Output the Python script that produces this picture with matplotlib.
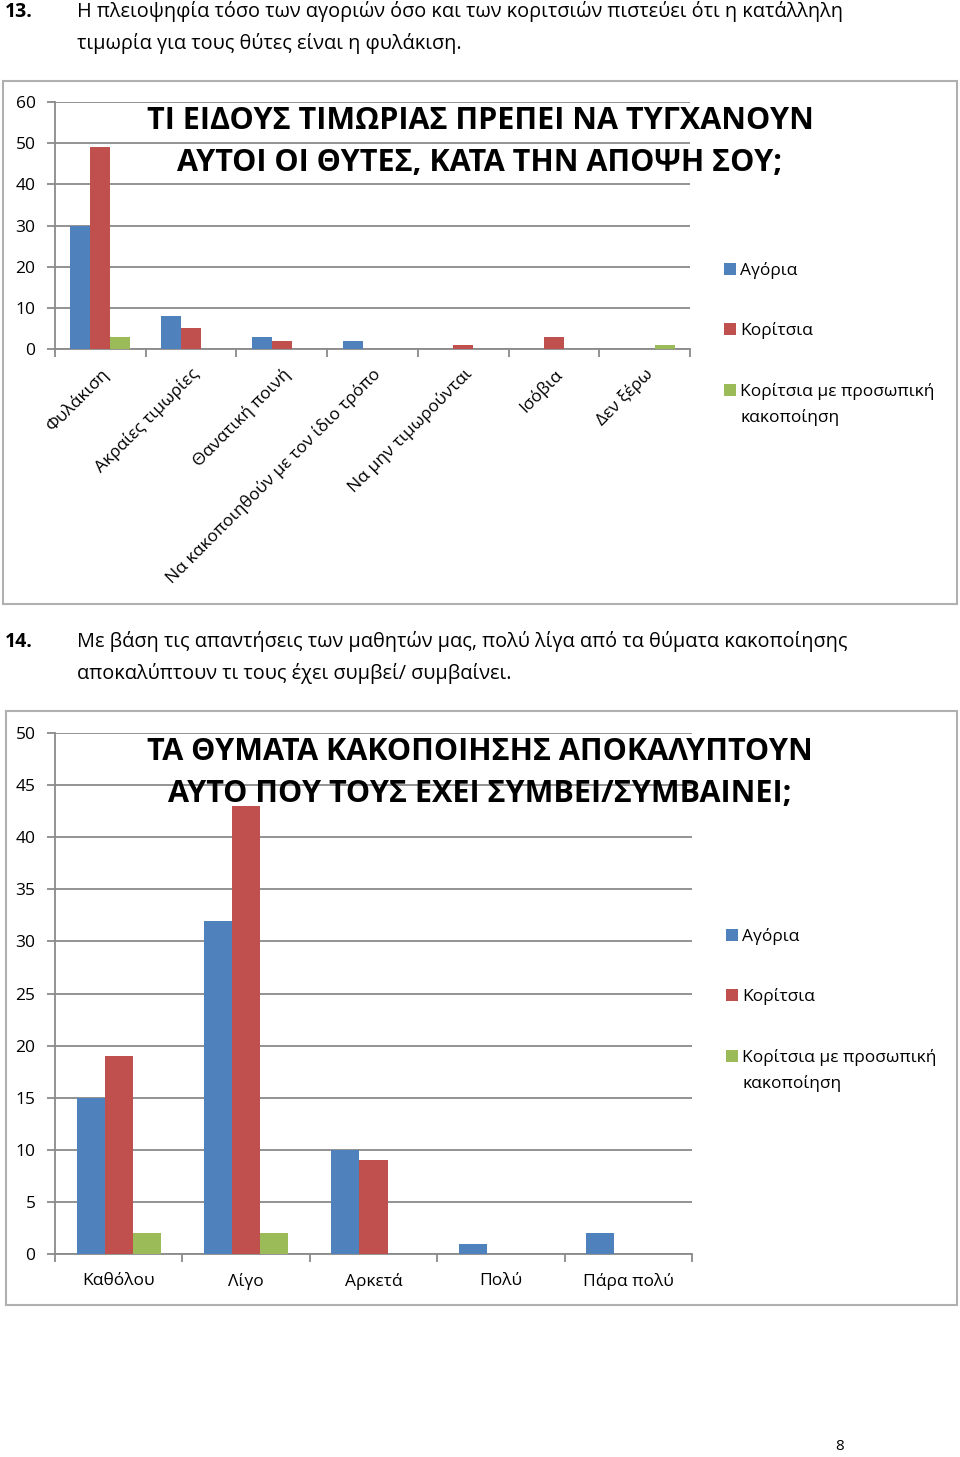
import matplotlib
matplotlib.use("Agg")
import matplotlib.pyplot as plt
import numpy as np
from matplotlib.patches import Rectangle

plt.rcParams['font.family'] = ['Open Sans', 'DejaVu Sans']

# data
series = ['Αγόρια', 'Κορίτσια', 'Κορίτσια με προσωπική']
series_extra = 'κακοποίηση'   # second line of the last legend entry
colors = ['#4F81BD', '#C0504D', '#9BBB59']

cats1 = ['Φυλάκιση', 'Ακραίες τιμωρίες', 'Θανατική ποινή',
         'Να κακοποιηθούν με τον ίδιο τρόπο', 'Να μην τιμωρούνται',
         'Ισόβια', 'Δεν ξέρω']
boys1 = [30, 8, 3, 2, 0, 0, 0]
girls1 = [49, 5, 2, 0, 1, 3, 0]
abused1 = [3, 0, 0, 0, 0, 0, 1]

cats2 = ['Καθόλου', 'Λίγο', 'Αρκετά', 'Πολύ', 'Πάρα πολύ']
boys2 = [15, 32, 10, 1, 2]
girls2 = [19, 43, 9, 0, 0]
abused2 = [2, 2, 0, 0, 0]

W, H = 960, 1457
fig = plt.figure(figsize=(W / 100, H / 100), dpi=100)

def box(x0, y0, x1, y1):
    return [x0 / W, 1 - y1 / H, (x1 - x0) / W, (y1 - y0) / H]

def frame(x0, y0, x1, y1):
    fig.patches.append(Rectangle((x0 / W, 1 - y1 / H), (x1 - x0) / W, (y1 - y0) / H,
                                 transform=fig.transFigure, fill=False,
                                 edgecolor='#b0b0b0', linewidth=1.5))

def bar_chart(ax, cats, vals, ymax, step, bw):
    x = np.arange(len(cats)) + 0.5
    for i, v in enumerate(vals):
        ax.bar(x + (i - 1) * bw, v, width=bw, color=colors[i], label=series[i], zorder=3)
    ax.set_xlim(0, len(cats))
    ax.set_ylim(0, ymax)
    ax.set_yticks(np.arange(0, ymax + 1, step))
    ax.yaxis.grid(True, color='#8a8a8a', linewidth=1.3, zorder=0)
    ax.set_xticks(np.arange(0, len(cats) + 1), minor=False)
    ax.set_xticklabels([])
    ax.set_xticks(x, minor=True)
    ax.tick_params(axis='x', which='major', length=6, color='#8a8a8a', width=1.3)
    ax.tick_params(axis='x', which='minor', length=0)
    ax.tick_params(axis='y', length=6, color='#8a8a8a', width=1.3, labelsize=12.5, pad=8)
    for s in ['top', 'right']:
        ax.spines[s].set_visible(False)
    for s in ['left', 'bottom']:
        ax.spines[s].set_color('#8a8a8a')
        ax.spines[s].set_linewidth(1.3)
    return x

legends = []
def legend(ax, x0, y0):
    leg = fig.legend(*ax.get_legend_handles_labels(), loc='upper left',
                     bbox_to_anchor=(x0 / W, 1 - y0 / H), frameon=False, fontsize=12.5,
                     handlelength=0.7, handleheight=0.7, handletextpad=0.25,
                     labelspacing=2.5, borderaxespad=0)
    legends.append(leg)
    return leg

# --- paragraph 13
fig.text(5 / W, 1 - 12 / H, '13.', fontsize=14, fontweight='bold', va='center')
fig.text(77 / W, 1 - 12 / H, 'Η πλειοψηφία τόσο των αγοριών όσο και των κοριτσιών πιστεύει ότι η κατάλληλη',
         fontsize=14.3, va='center')
fig.text(77 / W, 1 - 43 / H, 'τιμωρία για τους θύτες είναι η φυλάκιση.', fontsize=14.3, va='center')

# --- chart 1
frame(3, 81, 957, 604)
ax1 = fig.add_axes(box(55, 102, 690, 349))
x1 = bar_chart(ax1, cats1, [boys1, girls1, abused1], 60, 10, 0.22)
ax1.set_xticklabels(cats1, minor=True, rotation=45, ha='right', rotation_mode='anchor', fontsize=12.5)
ax1.tick_params(axis='x', which='minor', pad=12)
fig.text(480 / W, 1 - 142 / H, 'ΤΙ ΕΙΔΟΥΣ ΤΙΜΩΡΙΑΣ ΠΡΕΠΕΙ ΝΑ ΤΥΓΧΑΝΟΥΝ\nΑΥΤΟΙ ΟΙ ΘΥΤΕΣ, ΚΑΤΑ ΤΗΝ ΑΠΟΨΗ ΣΟΥ;',
         fontsize=22, fontweight='bold', ha='center', va='center', linespacing=1.55)
legend(ax1, 717, 255)

# --- paragraph 14
fig.text(5 / W, 1 - 642 / H, '14.', fontsize=14, fontweight='bold', va='center')
fig.text(77 / W, 1 - 642 / H, 'Με βάση τις απαντήσεις των μαθητών μας, πολύ λίγα από τα θύματα κακοποίησης',
         fontsize=14.3, va='center')
fig.text(77 / W, 1 - 673 / H, 'αποκαλύπτουν τι τους έχει συμβεί/ συμβαίνει.', fontsize=14.3, va='center')

# --- chart 2
frame(6, 711, 957, 1305)
ax2 = fig.add_axes(box(55, 733, 692, 1254))
x2 = bar_chart(ax2, cats2, [boys2, girls2, abused2], 50, 5, 0.22)
ax2.set_xticklabels(cats2, minor=True, fontsize=12.5)
ax2.tick_params(axis='x', which='minor', pad=14)
fig.text(480 / W, 1 - 773 / H, 'ΤΑ ΘΥΜΑΤΑ ΚΑΚΟΠΟΙΗΣΗΣ ΑΠΟΚΑΛΥΠΤΟΥΝ\nΑΥΤΟ ΠΟΥ ΤΟΥΣ ΕΧΕΙ ΣΥΜΒΕΙ/ΣΥΜΒΑΙΝΕΙ;',
         fontsize=22, fontweight='bold', ha='center', va='center', linespacing=1.55)
legend(ax2, 719, 921)

fig.text(840 / W, 1 - 1447 / H, '8', fontsize=11, ha='center', va='center')

# second line of the last legend entry, placed under its first line
fig.canvas.draw()
for leg in legends:
    t = leg.get_texts()[-1]
    bb = t.get_window_extent()
    fig.text(bb.x0 / W, (bb.y0 - 26) / H, series_extra, fontsize=12.5, ha='left', va='bottom')

fig.savefig('out.png', dpi=100)
